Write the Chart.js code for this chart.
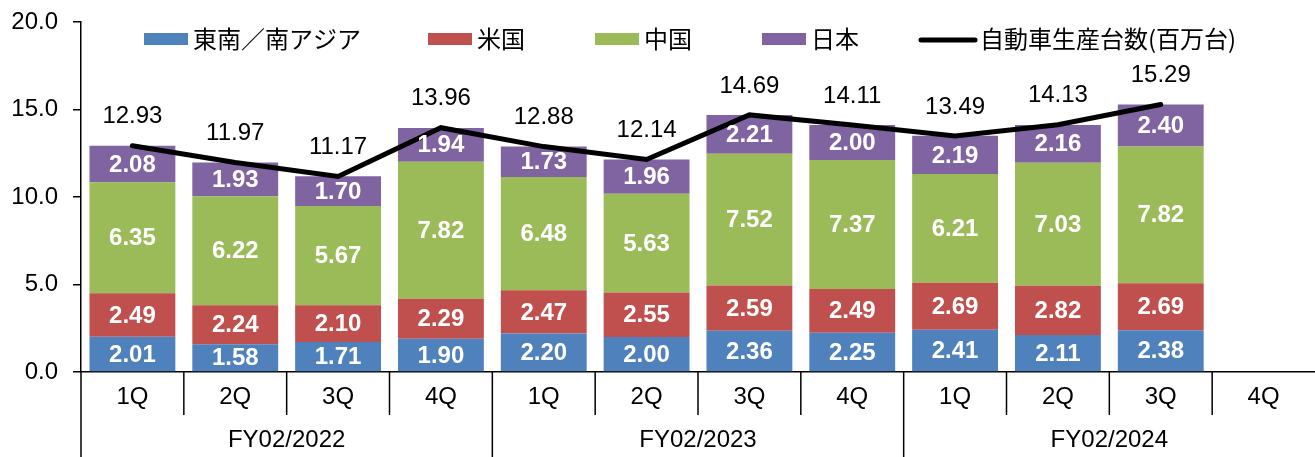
<!DOCTYPE html>
<html>
<head>
<meta charset="utf-8">
<script src="https://cdn.jsdelivr.net/npm/chart.js@4.4.1/dist/chart.umd.min.js"></script>
<style>
  body { margin: 0; background: #fff; }
  canvas { display: block; }
</style>
</head>
<body>
<canvas id="chart" width="1315" height="457"></canvas>
<script>
const quarters = ['1Q', '2Q', '3Q', '4Q', '1Q', '2Q', '3Q', '4Q', '1Q', '2Q', '3Q', '4Q'];
const fiscalYears = ['FY02/2022', 'FY02/2023', 'FY02/2024'];

const seAsia = [2.01, 1.58, 1.71, 1.90, 2.20, 2.00, 2.36, 2.25, 2.41, 2.11, 2.38, null];
const usa    = [2.49, 2.24, 2.10, 2.29, 2.47, 2.55, 2.59, 2.49, 2.69, 2.82, 2.69, null];
const china  = [6.35, 6.22, 5.67, 7.82, 6.48, 5.63, 7.52, 7.37, 6.21, 7.03, 7.82, null];
const japan  = [2.08, 1.93, 1.70, 1.94, 1.73, 1.96, 2.21, 2.00, 2.19, 2.16, 2.40, null];
const totals = [12.93, 11.97, 11.17, 13.96, 12.88, 12.14, 14.69, 14.11, 13.49, 14.13, 15.29, null];

const yTicks = [0, 5, 10, 15, 20];

const latin = '"Liberation Sans", Arial, sans-serif';
const cjk = '"Noto Sans CJK JP", sans-serif';

// value labels on bar segments and above the line
const labelPlugin = {
    id: 'labels',
    afterDatasetsDraw(chart) {
        const ctx = chart.ctx;
        ctx.save();
        ctx.textAlign = 'center';
        ctx.textBaseline = 'middle';
        chart.data.datasets.forEach((ds, di) => {
            const meta = chart.getDatasetMeta(di);
            meta.data.forEach((el, i) => {
                const v = ds.data[i];
                if (v == null) return;
                if (ds.type === 'line') {
                    ctx.font = '24px ' + latin;
                    ctx.fillStyle = '#000';
                    ctx.fillText(v.toFixed(2), el.x, el.y - 29);
                } else {
                    ctx.font = 'bold 24px ' + latin;
                    ctx.fillStyle = '#fff';
                    ctx.fillText(v.toFixed(2), el.x, (el.y + el.base) / 2 + 1);
                }
            });
        });
        ctx.restore();
    }
};

// two-level x axis: quarter dividers + fiscal year row
const xAxisPlugin = {
    id: 'xAxisGroups',
    afterDraw(chart) {
        const ctx = chart.ctx;
        const x = chart.scales.x;
        const bottom = chart.chartArea.bottom;
        const step = x.getPixelForValue(1) - x.getPixelForValue(0);
        ctx.save();
        ctx.strokeStyle = '#000';
        ctx.lineWidth = 1.5;
        for (let i = 0; i < quarters.length; i++) {
            const px = x.getPixelForValue(i) - step / 2;
            ctx.beginPath();
            ctx.moveTo(px, bottom);
            ctx.lineTo(px, i % 4 === 0 ? chart.height : bottom + 43);
            ctx.stroke();
        }
        ctx.font = '24px ' + latin;
        ctx.fillStyle = '#000';
        ctx.textAlign = 'center';
        ctx.textBaseline = 'middle';
        fiscalYears.forEach((fy, k) => {
            const cx = (x.getPixelForValue(k * 4) + x.getPixelForValue(k * 4 + 3)) / 2;
            ctx.fillText(fy, cx, 440);
        });
        ctx.restore();
    }
};

// legend drawn over the top of the plot
const legendPlugin = {
    id: 'topLegend',
    afterDraw(chart) {
        const ctx = chart.ctx;
        const starts = [144, 428, 595, 762, 919];
        const y = 39;
        ctx.save();
        ctx.font = '24px ' + cjk;
        ctx.textBaseline = 'middle';
        ctx.fillStyle = '#000';
        chart.data.datasets.forEach((ds, di) => {
            const sx = starts[di];
            let tx;
            if (ds.type === 'line') {
                ctx.strokeStyle = '#000';
                ctx.lineWidth = 5;
                ctx.lineCap = 'round';
                ctx.beginPath();
                ctx.moveTo(sx + 2, y + 1);
                ctx.lineTo(sx + 56, y + 1);
                ctx.stroke();
                tx = sx + 61;
            } else {
                ctx.fillStyle = ds.backgroundColor;
                ctx.fillRect(sx, y - 6, 44, 12);
                tx = sx + 49;
            }
            ctx.fillStyle = '#000';
            ctx.fillText(ds.label, tx, y);
        });
        ctx.restore();
    }
};

new Chart(document.getElementById('chart').getContext('2d'), {
    type: 'bar',
    data: {
        labels: quarters,
        datasets: [
            { label: '東南／南アジア', data: seAsia, backgroundColor: '#4F81BD', stack: 'bars', order: 1 },
            { label: '米国', data: usa, backgroundColor: '#C0504D', stack: 'bars', order: 1 },
            { label: '中国', data: china, backgroundColor: '#9BBB59', stack: 'bars', order: 1 },
            { label: '日本', data: japan, backgroundColor: '#8064A2', stack: 'bars', order: 1 },
            {
                type: 'line',
                label: '自動車生産台数(百万台)',
                data: totals,
                borderColor: '#000',
                borderWidth: 5,
                borderCapStyle: 'round',
                pointRadius: 0,
                tension: 0,
                stack: 'total',
                order: 0
            }
        ]
    },
    options: {
        responsive: false,
        animation: false,
        layout: { padding: { top: 22, right: 0, left: 0, bottom: 0 } },
        datasets: { bar: { categoryPercentage: 1, barPercentage: 0.835 } },
        plugins: {
            legend: { display: false },
            tooltip: { enabled: false }
        },
        scales: {
            x: {
                stacked: true,
                grid: { display: false },
                border: { display: true, color: '#000', width: 1.5 },
                ticks: { color: '#000', font: { family: latin, size: 24 }, padding: 3, maxRotation: 0 },
                afterFit(scale) { scale.height = 85; scale.paddingLeft = 0; scale.paddingRight = 0; }
            },
            y: {
                stacked: true,
                min: 0,
                max: 20,
                afterBuildTicks(scale) { scale.ticks = yTicks.map(v => ({ value: v })); },
                grid: { drawOnChartArea: false, drawTicks: true, tickLength: 8, color: '#000', lineWidth: 1.5 },
                border: { display: true, color: '#000', width: 1.5 },
                ticks: {
                    color: '#000',
                    font: { family: latin, size: 24 },
                    padding: 15,
                    callback: v => v.toFixed(1)
                },
                afterFit(scale) { scale.width = 81; scale.paddingTop = 0; scale.paddingBottom = 0; }
            }
        }
    },
    plugins: [labelPlugin, xAxisPlugin, legendPlugin]
});
</script>
</body>
</html>
